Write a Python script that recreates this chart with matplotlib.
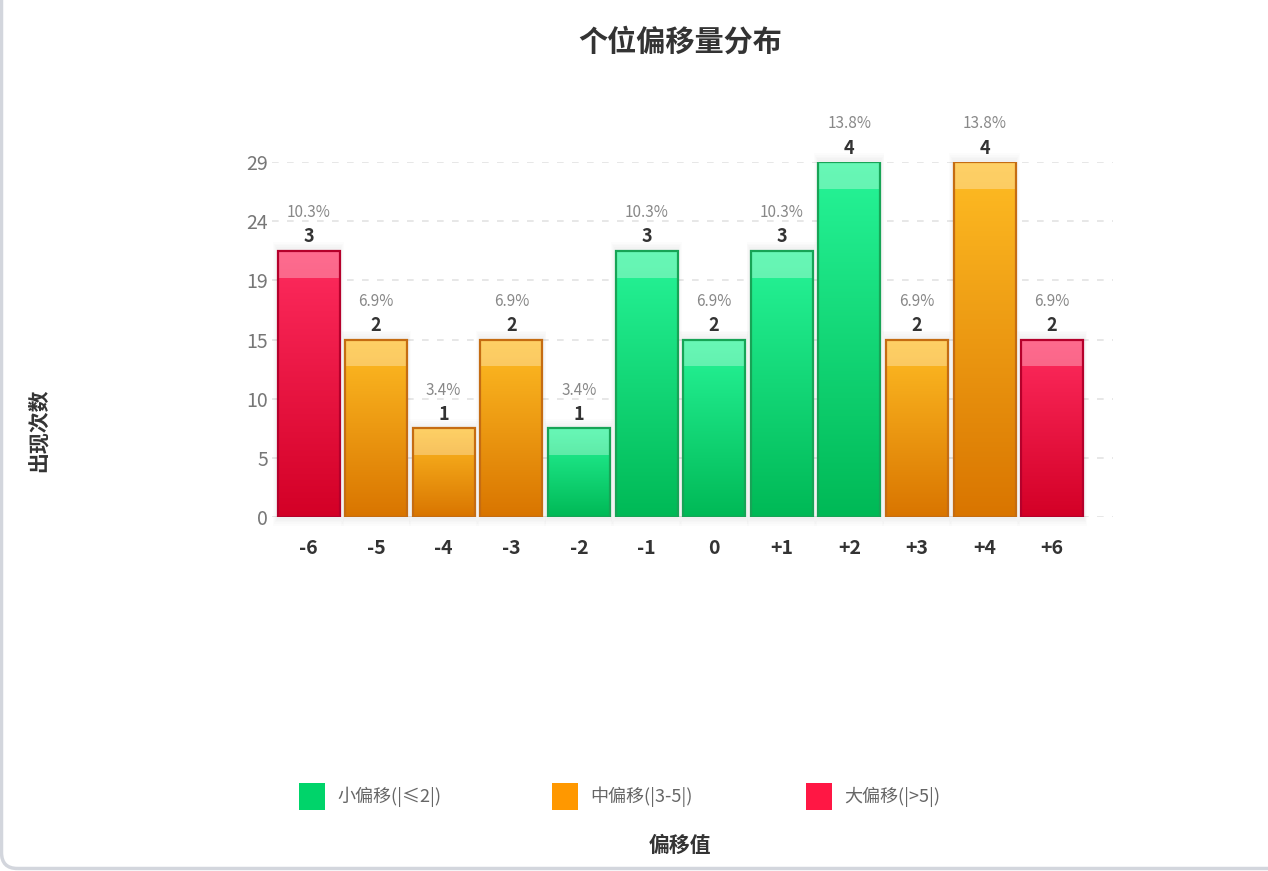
import numpy as np
import matplotlib
matplotlib.use("Agg")
import matplotlib.pyplot as plt
from matplotlib.patches import Rectangle, FancyBboxPatch
from matplotlib.colors import LinearSegmentedColormap
from matplotlib.transforms import IdentityTransform

plt.rcParams["font.family"] = ["Noto Sans CJK SC", "DejaVu Sans"]

# data
offsets = ["-6", "-5", "-4", "-3", "-2", "-1", "0", "+1", "+2", "+3", "+4", "+6"]
counts = [3, 2, 1, 2, 1, 3, 2, 3, 4, 2, 4, 2]
groups = ["large", "mid", "mid", "mid", "small", "small", "small", "small",
          "small", "mid", "mid", "large"]
y_tick_labels = ["0", "5", "10", "15", "19", "24", "29"]
legend_labels = {"small": "小偏移(|≤2|)", "mid": "中偏移(|3-5|)", "large": "大偏移(|>5|)"}

total = sum(counts)

# gradient colours (top, bottom, edge, legend)
palette = {
    "small": ("#27f598", "#00b956", "#17a456", "#00d46a"),
    "mid": ("#ffbd24", "#d97500", "#c56c12", "#ff9800"),
    "large": ("#ff2c5f", "#d30026", "#b5002b", "#ff1744"),
}

W, H = 1268, 871
fig = plt.figure(figsize=(W / 100, H / 100), dpi=100)
fig.patch.set_facecolor("white")

# axes placed in pixel terms
ax_left, ax_right, ax_top, ax_bottom = 272, 1113, 162, 517
ax = fig.add_axes([ax_left / W, 1 - ax_bottom / H,
                   (ax_right - ax_left) / W, (ax_bottom - ax_top) / H])

x = np.arange(len(counts))
bar_w = 0.917
ymax = max(counts)
px_per_unit = (ax_bottom - ax_top) / ymax
band = 27 / px_per_unit

# row 0 is drawn at the top of the extent
grad = np.linspace(1, 0, 256).reshape(-1, 1)

for xi, c, g in zip(x, counts, groups):
    top, bot, edge, _ = palette[g]
    cmap = LinearSegmentedColormap.from_list(g, [bot, top])
    x0 = xi - bar_w / 2
    # soft shadow
    for k in range(1, 6):
        dx = k * 0.012
        dy = k * 0.02
        ax.add_patch(Rectangle((x0 - dx, -dy), bar_w + 2 * dx, c + 2 * dy,
                               facecolor="black", alpha=0.012, edgecolor="none",
                               zorder=1, clip_on=False))
    im = ax.imshow(grad, cmap=cmap, extent=[x0, x0 + bar_w, 0, c],
                   aspect="auto", zorder=2, vmin=0, vmax=1)
    clip = Rectangle((x0, 0), bar_w, c, transform=ax.transData)
    im.set_clip_path(clip)
    ax.add_patch(Rectangle((x0, c - band), bar_w, band, facecolor="white",
                           alpha=0.3, edgecolor="none", zorder=3))
    ax.add_patch(Rectangle((x0, 0), bar_w, c, facecolor="none", edgecolor=edge,
                           linewidth=1.6, zorder=4))
    ax.annotate(str(c), (xi, c), xytext=(0, 14), textcoords="offset pixels",
                ha="center", va="center", fontsize=13, fontweight="bold",
                color="#333333")
    ax.annotate(f"{c / total * 100:.1f}%", (xi, c), xytext=(0, 38),
                textcoords="offset pixels", ha="center", va="center",
                fontsize=11, color="#888888")

ax.set_xlim(-0.54, 11.9)
ax.set_ylim(0, ymax)

yt = np.linspace(0, ymax, len(y_tick_labels))
ax.set_yticks(yt)
ax.set_yticklabels(y_tick_labels, fontsize=14, color="#777777")
ax.set_xticks(x)
ax.set_xticklabels(offsets, fontsize=14, fontweight="bold", color="#333333")
ax.tick_params(axis="y", length=0, pad=3)
ax.tick_params(axis="x", length=0, pad=16)

for v in yt:
    ax.axhline(v, color="#e3e3e3", linewidth=1.2, linestyle=(0, (4, 5)), zorder=0)

for s in ax.spines.values():
    s.set_visible(False)
ax.set_facecolor("none")

# title and axis names
fig.text(680 / W, 1 - 42 / H, "个位偏移量分布", ha="center", va="center",
         fontsize=21, fontweight="bold", color="#333333")
fig.text(680 / W, 1 - 845 / H, "偏移值", ha="center", va="center",
         fontsize=15, fontweight="bold", color="#333333")
fig.text(38 / W, 1 - 430 / H, "出现次数", ha="center", va="center",
         rotation=90, fontsize=15, fontweight="bold", color="#333333")

# legend
leg_x = [299, 552, 806]
for lx, g in zip(leg_x, ["small", "mid", "large"]):
    fig.add_artist(Rectangle((lx, H - 810), 26, 27, facecolor=palette[g][3],
                             edgecolor="none", transform=IdentityTransform()))
    fig.text((lx + 38) / W, 1 - 797 / H, legend_labels[g], ha="left", va="center",
             fontsize=13, color="#666666")

# card border
fig.add_artist(FancyBboxPatch((1.5, 2.5), W + 40, H + 40,
                              boxstyle="round,pad=0,rounding_size=16",
                              facecolor="none", edgecolor="#d3d6dd",
                              linewidth=2.5, transform=IdentityTransform()))

fig.savefig("out.png", dpi=100, facecolor="white")
